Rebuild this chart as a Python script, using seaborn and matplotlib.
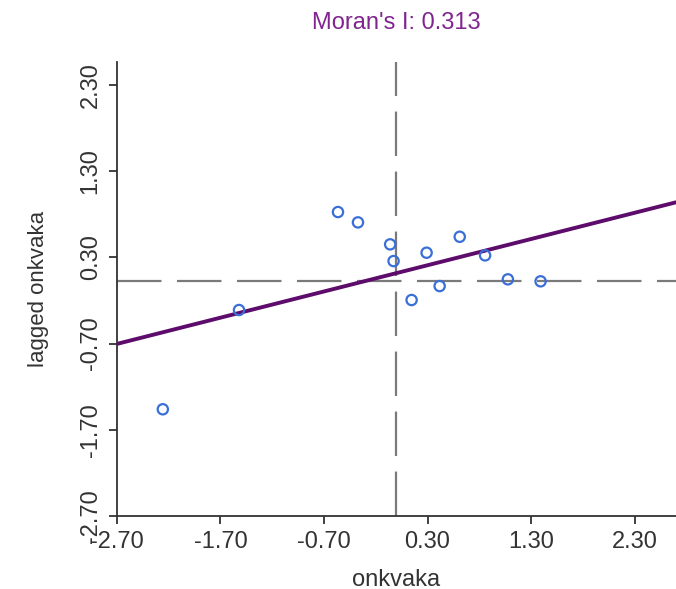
#%% import libraries
import pandas as pd
import seaborn as sns
import matplotlib
matplotlib.use("Agg")
import matplotlib.pyplot as plt

#%% data (standardized values and their spatial lag)
onkvaka = [-0.565, -0.372, -0.061, -0.028, 0.291, 0.611, 0.856,
           0.417, 0.146, 1.076, 1.392, -1.521, -2.257]
lagged = [0.827, 0.707, 0.452, 0.258, 0.355, 0.540, 0.324,
          -0.032, -0.194, 0.046, 0.023, -0.310, -1.462]
x_mean = 0.0
lag_mean = 0.03
morans_i = 0.313
ticks = [-2.70, -1.70, -0.70, 0.30, 1.30, 2.30]
tick_labels = ['-2.70', '-1.70', '-0.70', '0.30', '1.30', '2.30']

df = pd.DataFrame({'onkvaka': onkvaka, 'lagged onkvaka': lagged})

#%% plot setup
sns.set_theme(style="ticks")
plt.rcParams['font.family'] = ['Liberation Sans', 'DejaVu Sans']
purple = '#5e0c6c'
grey = '#7a7a7a'
ink = '#333333'

fig = plt.figure(figsize=(6.76, 5.89), dpi=100)
ax = fig.add_axes([0.173, 0.124, 0.827, 0.771])
ax.set_xlim(-2.70, 2.70)
ax.set_ylim(-2.70, 2.57)

# reference lines at the means
ax.axvline(x_mean, color=grey, lw=1.6, ls=(0, (20, 7)), zorder=1)
ax.axhline(lag_mean, color=grey, lw=1.6, ls=(0, (20, 7)), zorder=1)

# points
sns.scatterplot(data=df, x='onkvaka', y='lagged onkvaka', ax=ax,
                facecolors='none', edgecolor='#3a6fd8', linewidth=1.6,
                s=55, zorder=3)

# regression line over the whole x range
sns.regplot(data=df, x='onkvaka', y='lagged onkvaka', ax=ax, scatter=False,
            ci=None, truncate=False,
            line_kws={'color': purple, 'lw': 2.8, 'zorder': 2})

#%% axes styling
ax.set_xticks(ticks)
ax.set_xticklabels(tick_labels)
ax.set_yticks(ticks)
ax.set_yticklabels(tick_labels, rotation=90, va='center')
ax.tick_params(axis='both', labelsize=17, colors=ink, length=6, width=1.3,
               direction='out', pad=5)
for side in ['top', 'right']:
    ax.spines[side].set_visible(False)
for side in ['left', 'bottom']:
    ax.spines[side].set_color(ink)
    ax.spines[side].set_linewidth(1.3)

ax.set_xlabel('onkvaka', fontsize=17, color=ink, labelpad=11)
ax.set_ylabel('lagged onkvaka', fontsize=16, color=ink, labelpad=22)
ax.set_title(f"Moran's I: {morans_i}", fontsize=17, color='#80258f', pad=24)

# save figure
fig.savefig('out.png', dpi=100)
